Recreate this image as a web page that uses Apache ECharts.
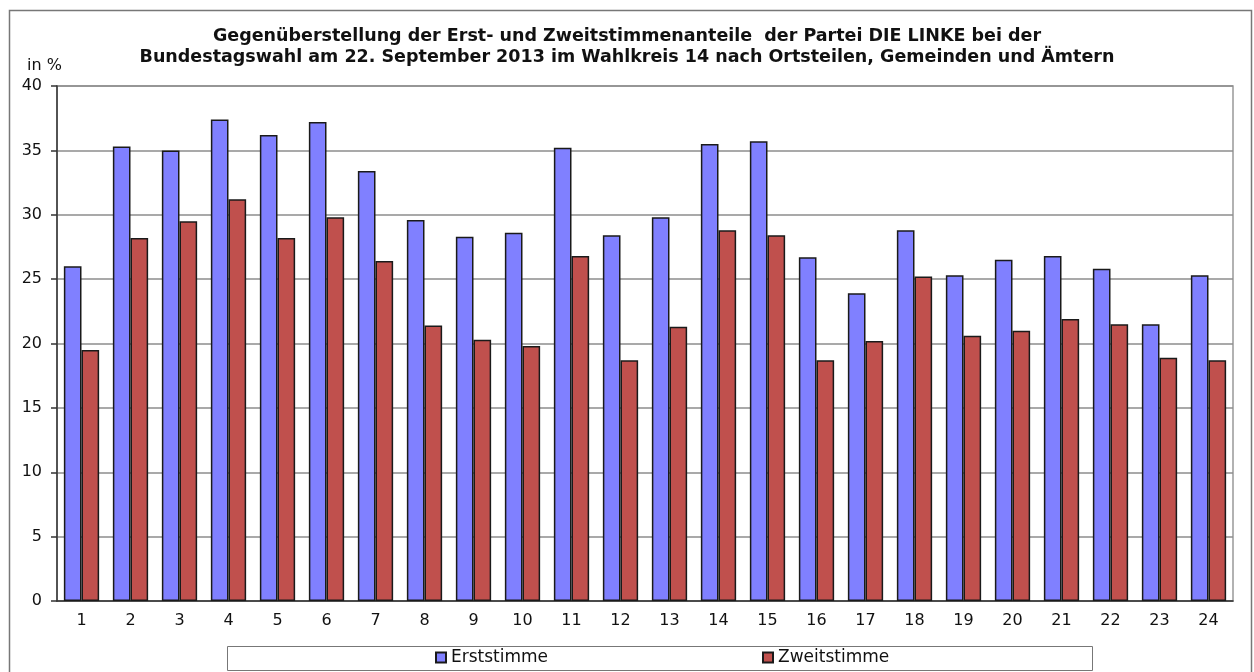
<!DOCTYPE html>
<html>
<head>
<meta charset="utf-8">
<script src="https://cdn.jsdelivr.net/npm/echarts@6/dist/echarts.min.js"></script>
<style>
html, body { margin: 0; padding: 0; background: #fff; }
#chart { width: 1254px; height: 672px; }
</style>
</head>
<body>
<div id="chart"></div>
<script>
// Wahlkreis 14, Ortsteile / Gemeinden / Ämter 1..24
const categories = ['1', '2', '3', '4', '5', '6', '7', '8', '9', '10', '11', '12',
    '13', '14', '15', '16', '17', '18', '19', '20', '21', '22', '23', '24'];
const erststimme = [26.0, 35.3, 35.0, 37.4, 36.2, 37.2, 33.4, 29.6, 28.3, 28.6, 35.2, 28.4,
    29.8, 35.5, 35.7, 26.7, 23.9, 28.8, 25.3, 26.5, 26.8, 25.8, 21.5, 25.3];
const zweitstimme = [19.5, 28.2, 29.5, 31.2, 28.2, 29.8, 26.4, 21.4, 20.3, 19.8, 26.8, 18.7,
    21.3, 28.8, 28.4, 18.7, 20.2, 25.2, 20.6, 21.0, 21.9, 21.5, 18.9, 18.7];
const yTicks = { min: 0, max: 40, interval: 5 };

const FONT = 'DejaVu Sans';
const chart = echarts.init(document.getElementById('chart'));

const barSeries = (name, data, color) => ({
    name,
    type: 'bar',
    data,
    barGap: 0,
    barCategoryGap: '28%',
    itemStyle: { color, borderColor: '#1a1a1a', borderWidth: 1.5 },
});

chart.setOption({
    animation: false,
    backgroundColor: '#fff',
    title: {
        text: 'Gegenüberstellung der Erst- und Zweitstimmenanteile  der Partei DIE LINKE bei der\nBundestagswahl am 22. September 2013 im Wahlkreis 14 nach Ortsteilen, Gemeinden und Ämtern',
        left: 'center',
        top: 26,
        padding: 0,
        textStyle: { fontFamily: FONT, fontSize: 17.5, fontWeight: 'bold', color: '#111', lineHeight: 21, align: 'center' },
    },
    graphic: [
        {
            type: 'rect',
            shape: { x: 9.5, y: 10.5, width: 1242, height: 700 },
            style: { fill: 'none', stroke: '#777', lineWidth: 1.5 },
            silent: true,
        },
        {
            type: 'rect',
            shape: { x: 227.5, y: 646.5, width: 865, height: 24 },
            style: { fill: '#fff', stroke: '#777', lineWidth: 1 },
            silent: true,
            z: -1,
        },
        {
            type: 'text',
            left: 27,
            top: 58,
            style: { text: 'in %', font: '16px "DejaVu Sans"', fill: '#111' },
        },
    ],
    legend: [
        {
            data: ['Erststimme'],
            left: 435, top: 649, padding: 0,
            itemWidth: 10, itemHeight: 10,
            icon: 'rect',
            textStyle: { fontFamily: FONT, fontSize: 17, color: '#111' },
        },
        {
            data: ['Zweitstimme'],
            left: 762, top: 649, padding: 0,
            itemWidth: 10, itemHeight: 10,
            icon: 'rect',
            textStyle: { fontFamily: FONT, fontSize: 17, color: '#111' },
        },
    ],
    grid: {
        left: 57, right: 21, top: 86, bottom: 71,
        show: true, borderColor: '#999', borderWidth: 1.5,
    },
    xAxis: {
        type: 'category',
        data: categories,
        axisLine: { lineStyle: { color: '#333', width: 1.5 } },
        axisTick: { length: 5, lineStyle: { color: '#333', width: 1.5 } },
        axisLabel: { fontFamily: FONT, fontSize: 16, color: '#111', margin: 12 },
    },
    yAxis: {
        type: 'value',
        min: yTicks.min, max: yTicks.max, interval: yTicks.interval,
        axisLine: { show: true, lineStyle: { color: '#333', width: 1.5 } },
        axisTick: { show: true, length: 6, lineStyle: { color: '#333', width: 1.5 } },
        axisLabel: { fontFamily: FONT, fontSize: 16, color: '#111', margin: 15 },
        splitLine: { lineStyle: { color: '#8c8c8c', width: 1.5 } },
    },
    series: [
        barSeries('Erststimme', erststimme, '#8080FF'),
        barSeries('Zweitstimme', zweitstimme, '#C0504D'),
    ],
});
</script>
</body>
</html>
